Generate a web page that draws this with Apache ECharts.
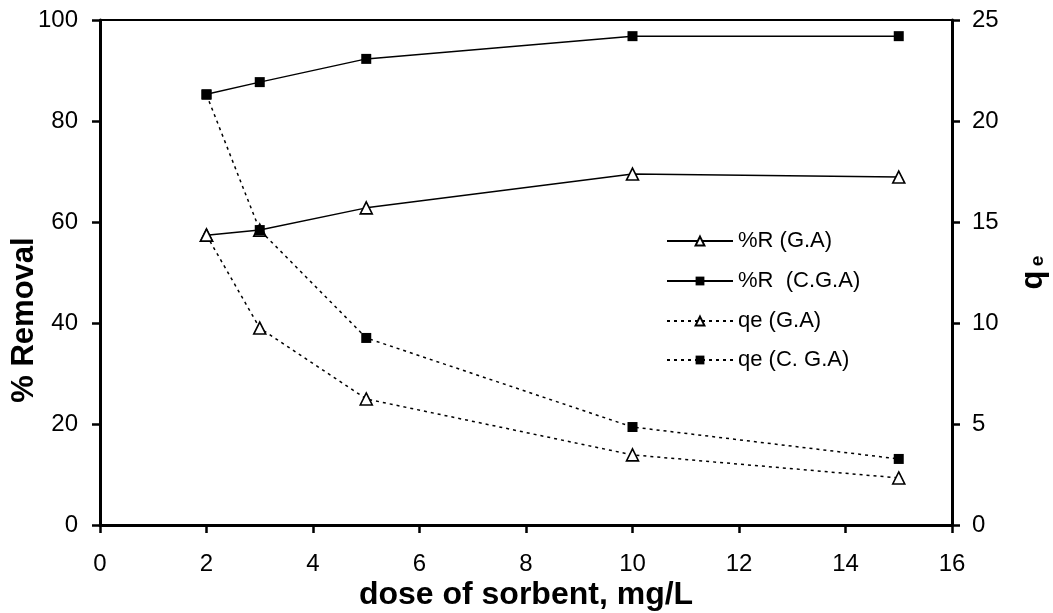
<!DOCTYPE html>
<html>
<head>
<meta charset="utf-8">
<script src="https://cdn.jsdelivr.net/npm/echarts@6/dist/echarts.min.js"></script>
<style>
  html, body { margin: 0; padding: 0; background: #fff; }
  #chart { width: 1053px; height: 613px; }
</style>
</head>
<body>
<div id="chart"></div>
<script>
// Sorbent dose (mg/L)
const doses = [2, 3, 5, 10, 15];
// Percent removal
const removalGA = [57.4, 58.4, 62.8, 69.5, 68.9];
const removalCGA = [85.3, 87.7, 92.3, 96.8, 96.8];
// Uptake capacity qe
const qeGA = [14.35, 9.75, 6.24, 3.47, 2.33];
const qeCGA = [21.3, 14.6, 9.26, 4.85, 3.27];

const xTicks = { min: 0, max: 16, interval: 2 };
const leftTicks = { min: 0, max: 100, interval: 20 };
const rightTicks = { min: 0, max: 25, interval: 5 };

const names = ['%R (G.A)', '%R  (C.G.A)', 'qe (G.A)', 'qe (C. G.A)'];

const FONT = 'Liberation Sans, Arial, sans-serif';
const pairs = (xs, ys) => xs.map((x, i) => [x, ys[i]]);

const solid = { color: '#000', width: 1.5, type: 'solid' };
const dotted = { color: '#000', width: 1.5, type: [3, 4] };
const openTri = { color: '#fff', borderColor: '#000', borderWidth: 1.6 };
const filledSq = { color: '#000', borderColor: '#000', borderWidth: 0 };

function lineSeries(name, data, yIdx, lineStyle, symbol, size, itemStyle) {
  return {
    name, type: 'line', yAxisIndex: yIdx, data,
    symbol, symbolSize: size, showSymbol: true,
    lineStyle, itemStyle, animation: false, z: 3
  };
}

const legendRows = [225, 265, 305, 344];
const legends = names.map((n, i) => ({
  data: [n], left: 661, top: legendRows[i], orient: 'vertical',
  itemWidth: 66, itemHeight: 11, itemGap: 6,
  textStyle: { fontFamily: FONT, fontSize: 22, color: '#000' },
  selectedMode: false
}));

const chart = echarts.init(document.getElementById('chart'));
chart.setOption({
  backgroundColor: '#fff',
  animation: false,
  grid: { left: 100, right: 101, top: 20, bottom: 88, show: true, borderColor: '#000', borderWidth: 2 },
  legend: legends,
  xAxis: {
    type: 'value', min: xTicks.min, max: xTicks.max, interval: xTicks.interval,
    axisLine: { onZero: false, lineStyle: { color: '#000', width: 3 } },
    axisTick: { length: 8, lineStyle: { color: '#000', width: 2.5 } },
    axisLabel: { margin: 27, fontFamily: FONT, fontSize: 24, color: '#000' },
    splitLine: { show: false }
  },
  yAxis: [
    {
      type: 'value', position: 'left', min: leftTicks.min, max: leftTicks.max, interval: leftTicks.interval,
      axisLine: { show: true, onZero: false, lineStyle: { color: '#000', width: 3 } },
      axisTick: { show: true, length: 8, lineStyle: { color: '#000', width: 2.5 } },
      axisLabel: { margin: 22, fontFamily: FONT, fontSize: 24, color: '#000' },
      splitLine: { show: false }
    },
    {
      type: 'value', position: 'right', min: rightTicks.min, max: rightTicks.max, interval: rightTicks.interval,
      axisLine: { show: true, onZero: false, lineStyle: { color: '#000', width: 3 } },
      axisTick: { show: true, length: 8, lineStyle: { color: '#000', width: 2.5 } },
      axisLabel: { margin: 20, fontFamily: FONT, fontSize: 24, color: '#000' },
      splitLine: { show: false }
    },
    {
      // inner half of the crossing ticks on the right axis
      type: 'value', position: 'right', min: rightTicks.min, max: rightTicks.max, interval: rightTicks.interval,
      axisLine: { show: false },
      axisTick: { show: true, inside: true, length: 8, lineStyle: { color: '#000', width: 2.5 } },
      axisLabel: { show: false },
      splitLine: { show: false }
    }
  ],
  series: [
    lineSeries(names[0], pairs(doses, removalGA), 0, solid, 'triangle', 12, openTri),
    lineSeries(names[1], pairs(doses, removalCGA), 0, solid, 'rect', 10, filledSq),
    lineSeries(names[2], pairs(doses, qeGA), 1, dotted, 'triangle', 12, openTri),
    lineSeries(names[3], pairs(doses, qeCGA), 1, dotted, 'rect', 10, filledSq)
  ],
  graphic: [
    {
      type: 'text', x: 24, y: 320, rotation: Math.PI / 2,
      style: { text: '% Removal', font: 'bold 31px ' + FONT, fill: '#000', align: 'center', verticalAlign: 'middle' }
    },
    {
      type: 'text', x: 526, y: 595,
      style: { text: 'dose of sorbent, mg/L', font: 'bold 32px ' + FONT, fill: '#000', align: 'center', verticalAlign: 'middle' }
    },
    {
      type: 'text', x: 1033, y: 280, rotation: Math.PI / 2,
      style: { text: 'q', font: 'bold 31px ' + FONT, fill: '#000', align: 'center', verticalAlign: 'middle' }
    },
    {
      type: 'text', x: 1038, y: 261, rotation: Math.PI / 2,
      style: { text: 'e', font: 'bold 19px ' + FONT, fill: '#000', align: 'center', verticalAlign: 'middle' }
    }
  ]
});
</script>
</body>
</html>
